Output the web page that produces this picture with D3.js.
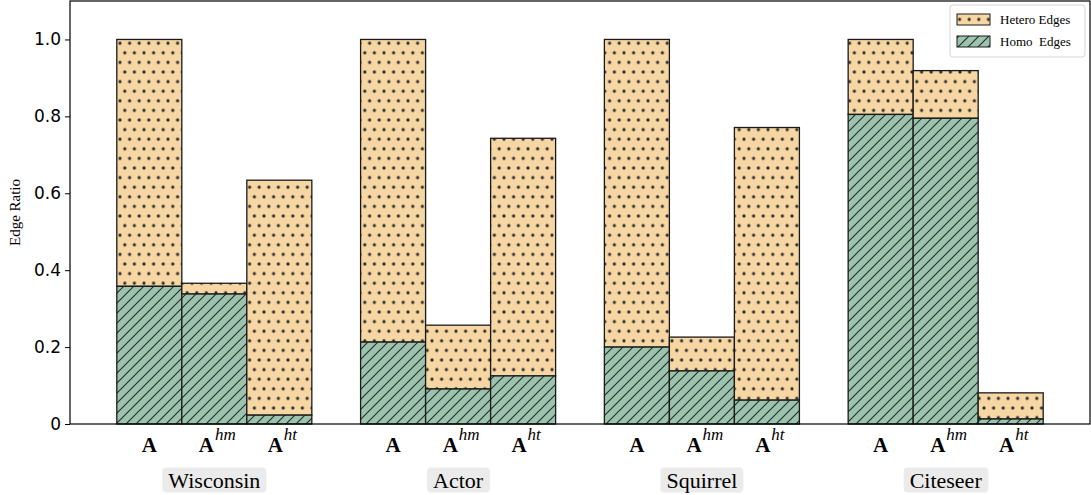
<!DOCTYPE html>
<html>
<head>
<meta charset="utf-8">
<script src="https://cdn.jsdelivr.net/npm/d3@7"></script>
<style>
  body { margin: 0; background: #fff; }
  svg { display: block; }
  .serif { font-family: "Liberation Serif", "Times New Roman", "DejaVu Serif", serif; }
</style>
</head>
<body>
<svg width="1091" height="495"></svg>
<script>
'use strict'

var datasets = ["Wisconsin", "Actor", "Squirrel", "Citeseer"];
var matrices = [["A", ""], ["A", "hm"], ["A", "ht"]];

// total edge ratio of each bar (hetero + homo), per dataset
var totals = [
  [1.0, 0.366, 0.634],
  [1.0, 0.257, 0.743],
  [1.0, 0.226, 0.771],
  [1.0, 0.919, 0.081]
];
// homo edge part of each bar
var homo = [
  [0.358, 0.338, 0.023],
  [0.213, 0.091, 0.125],
  [0.200, 0.138, 0.062],
  [0.805, 0.795, 0.013]
];

var yTicks = [0, 0.2, 0.4, 0.6, 0.8, 1.0];
var yTickLabels = ["0", "0.2", "0.4", "0.6", "0.8", "1.0"];

var heteroColor = "#f6d6a2",
  homoColor = "#9bc3ad";

var svg = d3.select("svg"),
  margin = { top: 1, right: 1, bottom: 71, left: 70 },
  W = +svg.attr("width"),
  H = +svg.attr("height");

var groupStride = 3.75;

var x = d3.scaleLinear().domain([-1.22, 14.47]).range([margin.left, W - margin.right]);
var y = d3.scaleLinear().domain([0, 1.1]).range([H - margin.bottom, margin.top]);
var bw = x(1) - x(0);

var rows = [];
datasets.forEach(function(ds, g) {
  matrices.forEach(function(m, j) {
    rows.push({
      ds: ds, g: g, j: j, m: m,
      pos: g * groupStride + j,
      total: totals[g][j],
      homo: homo[g][j]
    });
  });
});

var defs = svg.append("defs");

var dots = defs.append("pattern")
  .attr("id", "dots")
  .attr("patternUnits", "userSpaceOnUse")
  .attr("width", 9.6)
  .attr("height", 19.2);
[[4.8, 4.8], [0, 14.4], [9.6, 14.4]].forEach(function(p) {
  dots.append("circle").attr("cx", p[0]).attr("cy", p[1]).attr("r", 1.6).attr("fill", "#2b2b2b");
});

var hatch = defs.append("pattern")
  .attr("id", "hatch")
  .attr("patternUnits", "userSpaceOnUse")
  .attr("width", 10)
  .attr("height", 10);
hatch.append("path")
  .attr("d", "M0,10 L10,0 M-2.5,2.5 L2.5,-2.5 M7.5,12.5 L12.5,7.5")
  .attr("stroke", "#2a302c")
  .attr("stroke-width", 1.2);

// bars
var bars = svg.append("g");

function drawPart(sel, y0f, y1f, color, pat) {
  sel.append("rect")
    .attr("x", function(d) { return x(d.pos) - bw / 2; })
    .attr("y", function(d) { return y(y1f(d)); })
    .attr("width", bw)
    .attr("height", function(d) { return y(y0f(d)) - y(y1f(d)); })
    .attr("fill", color);
  sel.append("rect")
    .attr("x", function(d) { return x(d.pos) - bw / 2; })
    .attr("y", function(d) { return y(y1f(d)); })
    .attr("width", bw)
    .attr("height", function(d) { return y(y0f(d)) - y(y1f(d)); })
    .attr("fill", "url(#" + pat + ")")
    .attr("stroke", "#1a1a1a")
    .attr("stroke-width", 1.3);
}

var barG = bars.selectAll("g.bar")
  .data(rows)
  .enter()
  .append("g")
  .attr("class", "bar");

drawPart(barG, function(d) { return d.homo; }, function(d) { return d.total; }, heteroColor, "dots");
drawPart(barG, function(d) { return 0; }, function(d) { return d.homo; }, homoColor, "hatch");

// axes frame
svg.append("rect")
  .attr("x", margin.left)
  .attr("y", margin.top)
  .attr("width", W - margin.right - margin.left)
  .attr("height", y(0) - margin.top)
  .attr("fill", "none")
  .attr("stroke", "#000")
  .attr("stroke-width", 1.2);

var yAxis = d3.axisLeft(y)
  .tickValues(yTicks)
  .tickFormat(function(d, i) { return yTickLabels[i]; })
  .tickSize(5)
  .tickPadding(4);

var yg = svg.append("g")
  .attr("transform", "translate(" + margin.left + ",0)")
  .call(yAxis);
yg.select(".domain").remove();
yg.selectAll("text")
  .attr("font-family", "DejaVu Sans")
  .attr("font-size", 17)
  .attr("fill", "#000");
yg.selectAll("line").attr("stroke", "#000").attr("stroke-width", 1);

svg.append("text")
  .attr("class", "serif")
  .attr("transform", "translate(20," + y(0.55) + ") rotate(-90)")
  .attr("text-anchor", "middle")
  .attr("font-size", 15)
  .text("Edge Ratio");

// x tick labels: A, A^hm, A^ht
var tl = svg.append("g").selectAll("text")
  .data(rows)
  .enter()
  .append("text")
  .attr("class", "serif")
  .attr("x", function(d) { return x(d.pos) + (d.m[1] ? 3 : 0); })
  .attr("y", 452)
  .attr("text-anchor", "middle")
  .attr("font-size", 21);
tl.append("tspan")
  .attr("font-weight", "bold")
  .text(function(d) { return d.m[0]; });
tl.append("tspan")
  .attr("font-style", "italic")
  .attr("font-size", 17)
  .attr("dx", 1)
  .attr("dy", -12)
  .text(function(d) { return d.m[1]; });

// group labels with boxes
var gl = svg.append("g").selectAll("g")
  .data(datasets)
  .enter()
  .append("g")
  .attr("transform", function(d, g) {
    return "translate(" + x(g * groupStride + 1) + ",480)";
  });
gl.append("text")
  .attr("class", "serif")
  .attr("text-anchor", "middle")
  .attr("dy", "0.35em")
  .attr("font-size", 22)
  .text(function(d) { return d; });
gl.each(function() {
  var g = d3.select(this);
  var bb = g.select("text").node().getBBox();
  g.insert("rect", "text")
    .attr("x", bb.x - 6)
    .attr("y", -12.5)
    .attr("width", bb.width + 12)
    .attr("height", 25)
    .attr("rx", 4)
    .attr("fill", "#ebebeb");
});

// legend
var leg = svg.append("g").attr("transform", "translate(950,5)");
leg.append("rect")
  .attr("width", 135)
  .attr("height", 52)
  .attr("rx", 3)
  .attr("fill", "#fff")
  .attr("fill-opacity", 0.8)
  .attr("stroke", "#d5d5d5");
var legItems = [["Hetero Edges", heteroColor, "dots"], ["Homo\u00a0 Edges", homoColor, "hatch"]];
legItems.forEach(function(it, i) {
  var yy = 9 + i * 22;
  leg.append("rect").attr("x", 7).attr("y", yy).attr("width", 33).attr("height", 11).attr("fill", it[1]);
  leg.append("rect").attr("x", 7).attr("y", yy).attr("width", 33).attr("height", 11)
    .attr("fill", "url(#" + it[2] + ")")
    .attr("stroke", "#1a1a1a").attr("stroke-width", 1);
  leg.append("text")
    .attr("class", "serif")
    .attr("x", 50)
    .attr("y", yy + 10)
    .attr("font-size", 13)
    .text(it[0]);
});
</script>
</body>
</html>
